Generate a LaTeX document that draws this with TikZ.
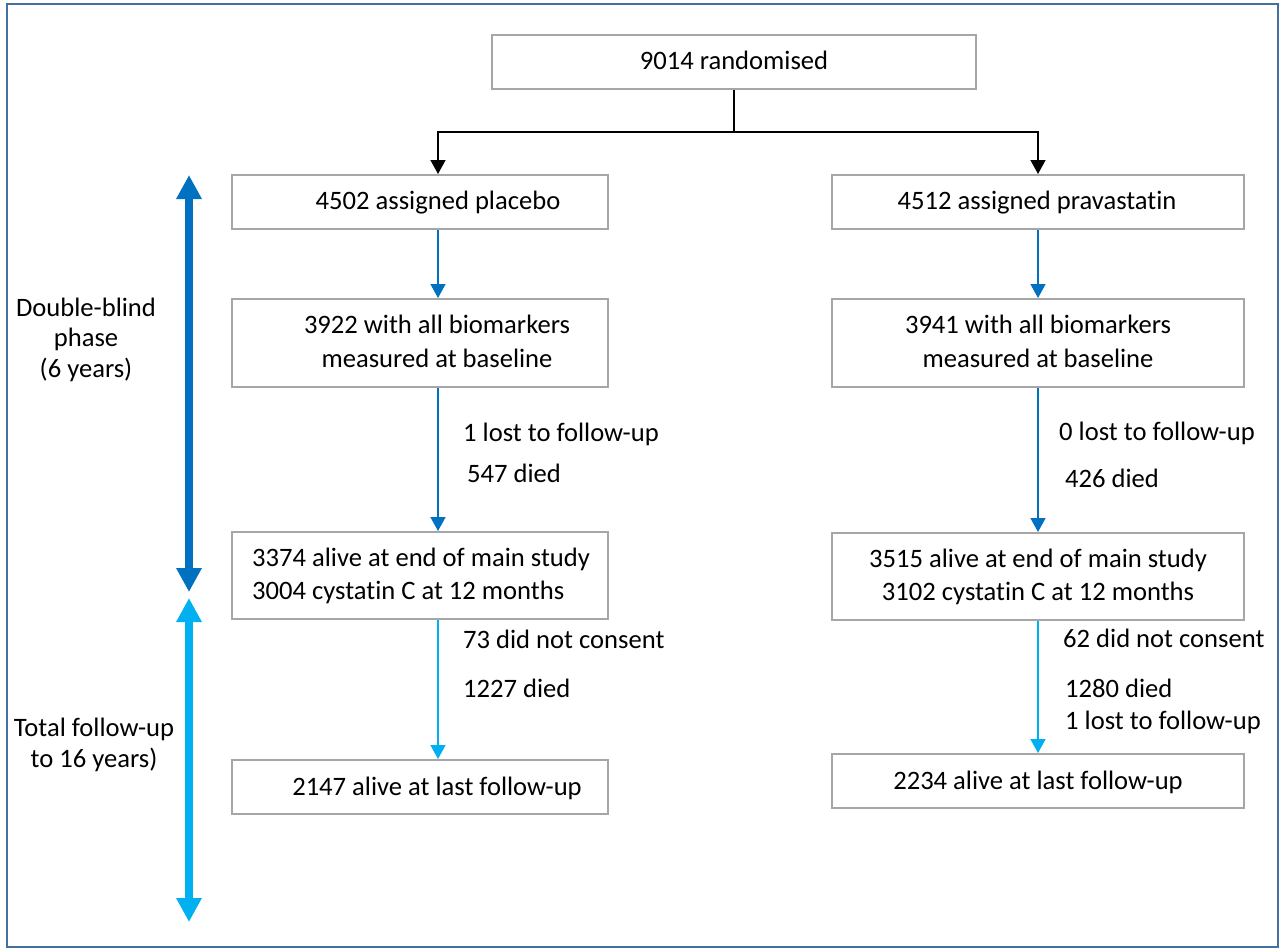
\documentclass[tikz,border=0pt]{standalone}
\usepackage{fontspec}
\setmainfont{Carlito}[Ligatures={NoCommon,NoContextual},RawFeature={-liga;-clig;-dlig}]
\usetikzlibrary{arrows.meta}
\definecolor{frameblue}{HTML}{41719C}
\definecolor{darkblue}{HTML}{0070C0}
\definecolor{lightblue}{HTML}{00B0F0}
\definecolor{boxgray}{HTML}{A6A6A6}
\tikzset{
  flowbox/.style={draw=boxgray, line width=2pt, inner sep=0pt, fill=white},
  txt/.style={inner sep=0pt, font=\fontsize{26.6}{33}\selectfont, text=black},
  blackarrow/.style={draw=black, line width=1.5pt, -{Triangle[width=15pt,length=14pt]}},
  bluearrow/.style={draw=darkblue, line width=1.5pt, -{Triangle[width=15pt,length=14pt]}},
  lbluearrow/.style={draw=lightblue, line width=1.5pt, -{Triangle[width=15pt,length=14pt]}},
  phasearrow/.style={line width=7.5pt, {Triangle[width=24pt,length=24pt]}-{Triangle[width=24pt,length=24pt]}}
}
\begin{document}
\begin{tikzpicture}[x=1pt,y=-1pt]
\useasboundingbox (0,0) rectangle (1285,951);
\fill[white] (0,0) rectangle (1285,951);
\draw[frameblue, line width=2.5pt] (7,4) rectangle (1278,947);

% boxes
\node[flowbox, minimum width=484pt, minimum height=54pt] (top) at (734,62) {};
\node[flowbox, minimum width=376pt, minimum height=54pt] (p1) at (420,202) {};
\node[flowbox, minimum width=412pt, minimum height=54pt] (q1) at (1038,202) {};
\node[flowbox, minimum width=376pt, minimum height=88pt] (p2) at (420,343) {};
\node[flowbox, minimum width=412pt, minimum height=88pt] (q2) at (1038,343) {};
\node[flowbox, minimum width=376pt, minimum height=87pt] (p3) at (420,575.5) {};
\node[flowbox, minimum width=412pt, minimum height=87pt] (q3) at (1038,576.5) {};
\node[flowbox, minimum width=376pt, minimum height=54pt] (p4) at (420,787) {};
\node[flowbox, minimum width=412pt, minimum height=54pt] (q4) at (1038,781) {};

% box texts
\node[txt, anchor=base] (ttop) at (734,69) {9014 randomised};
\node[txt, anchor=base] (tp1) at (438,209) {4502 assigned placebo};
\node[txt, anchor=base] (tq1) at (1037,209) {4512 assigned pravastatin};
\node[txt, anchor=base] (tp2a) at (437,333) {3922 with all biomarkers};
\node[txt, anchor=base] (tp2b) at (437,367) {measured at baseline};
\node[txt, anchor=base] (tq2a) at (1038,333) {3941 with all biomarkers};
\node[txt, anchor=base] (tq2b) at (1038,367) {measured at baseline};
\node[txt, anchor=base west] (tp3a) at (252,566) {3374 alive at end of main study};
\node[txt, anchor=base west] (tp3b) at (252,599) {3004 cystatin C at 12 months};
\node[txt, anchor=base] (tq3a) at (1038,567) {3515 alive at end of main study};
\node[txt, anchor=base] (tq3b) at (1038,600) {3102 cystatin C at 12 months};
\node[txt, anchor=base] (tp4) at (437,795) {2147 alive at last follow-up};
\node[txt, anchor=base] (tq4) at (1038,789) {2234 alive at last follow-up};

% connector columns
\coordinate (lx) at (438,0);
\coordinate (rx) at (1038,0);
\coordinate (split) at (734,132);

\draw[line width=1.5pt] (top.south) -- (split);
\draw[blackarrow] (split) -| (p1.north -| lx);
\draw[blackarrow] (split) -| (q1.north -| rx);

\draw[bluearrow] (p1.south -| lx) -- (p2.north -| lx);
\draw[bluearrow] (p2.south -| lx) -- (p3.north -| lx);
\draw[lbluearrow] (p3.south -| lx) -- (p4.north -| lx);
\draw[bluearrow] (q1.south -| rx) -- (q2.north -| rx);
\draw[bluearrow] (q2.south -| rx) -- (q3.north -| rx);
\draw[lbluearrow] (q3.south -| rx) -- (q4.north -| rx);

% connector labels
\node[txt, anchor=base west] (l1) at (463,441) {1 lost to follow-up};
\node[txt, anchor=base west] (l2) at (467,482) {547 died};
\node[txt, anchor=base west] (l3) at (463,648) {73 did not consent};
\node[txt, anchor=base west] (l4) at (463,697) {1227 died};
\node[txt, anchor=base west] (r1) at (1059,440) {0 lost to follow-up};
\node[txt, anchor=base west] (r2) at (1065,487) {426 died};
\node[txt, anchor=base west] (r3) at (1063,647) {62 did not consent};
\node[txt, anchor=base west] (r4) at (1065,697) {1280 died};
\node[txt, anchor=base west] (r5) at (1065,729) {1 lost to follow-up};

% phase arrows
\coordinate (dbtop) at (189,175);
\coordinate (dbbot) at (189,592);
\coordinate (futop) at (189,598);
\coordinate (fubot) at (189,922);
\draw[phasearrow, darkblue] (dbtop) -- (dbbot);
\draw[phasearrow, lightblue] (futop) -- (fubot);

\node[txt, anchor=base] (db1) at (86,316) {Double-blind};
\node[txt, anchor=base] (db2) at (86,346) {phase};
\node[txt, anchor=base] (db3) at (86,377) {(6 years)};
\node[txt, anchor=base] (fu1) at (94,736) {Total follow-up};
\node[txt, anchor=base] (fu2) at (94,767) {to 16 years)};
\end{tikzpicture}
\end{document}
